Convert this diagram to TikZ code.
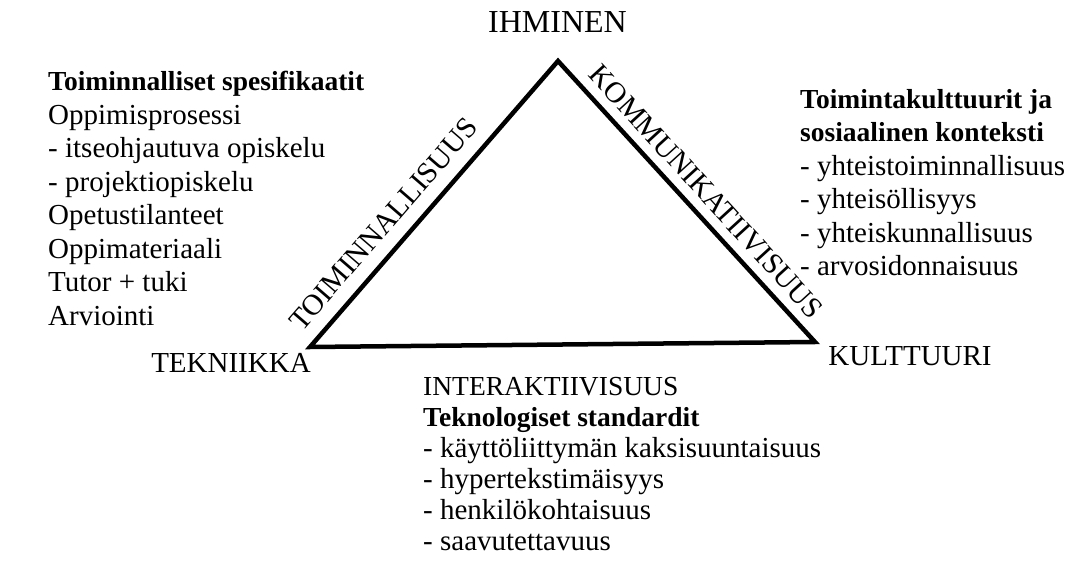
\documentclass[tikz,border=0pt]{standalone}
\usepackage{fontspec}
\setmainfont{Liberation Serif}
\usetikzlibrary{positioning,calc}
\newcommand{\spechead}[1]{{\fontsize{27.5}{33.5}\selectfont\bfseries #1}}

\begin{document}
\begin{tikzpicture}[x=1pt, y=-1pt]
        \tikzset{
            corner/.style={inner sep=0pt, font=\fontsize{29}{33}\selectfont},
            side/.style={inner sep=0pt, sloped, font=\fontsize{29.5}{33}\selectfont},
            spec/.style={inner sep=0pt, anchor=north west, align=left, font=\fontsize{29}{33.5}\selectfont},
            triangle/.style={draw, line width=4.5pt, line join=miter}
        }
        
        % Triangle corners
        \coordinate (vtop) at (558, 61);
        \coordinate (vleft) at (310, 347);
        \coordinate (vright) at (815, 342);
        
        % Triangle with side labels
        \draw [triangle] (vleft) -- node[side, pos=0.372, above=13pt] (toim) {TOIMINNALLISUUS} (vtop)
            -- node[side, pos=0.516, above=9pt] (komm) {KOMMUNIKATIIVISUUS} (vright) -- cycle;
        
        % Corner labels
        \node [corner, font=\fontsize{32}{33}\selectfont] (ihminen) at (557.5, 22.5) {IHMINEN};
        \node [corner] (tekniikka) at (231, 363) {TEKNIIKKA};
        \node [corner] (kulttuuri) at (910, 356) {KULTTUURI};
        \node [corner, font=\fontsize{27.5}{33}\selectfont, anchor=north west] (interakt) at (423, 377.5) {INTERAKTIIVISUUS};
        
        % Specification lists
        \node [spec] (toimspec) at (48, 71) {\spechead{Toiminnalliset spesifikaatit}\\
            Oppimisprosessi\\ - itseohjautuva opiskelu\\ - projektiopiskelu\\
            Opetustilanteet\\ Oppimateriaali\\ Tutor + tuki\\ Arviointi};
        \node [spec] (kommspec) at (800, 89) {\spechead{Toimintakulttuurit ja}\\
            \spechead{sosiaalinen konteksti}\\ - yhteistoiminnallisuus\\
            - yhteisöllisyys\\ - yhteiskunnallisuus\\ - arvosidonnaisuus};
        \node [spec, font=\fontsize{29}{31}\selectfont] (interspec) [below right=11pt and 0pt of interakt.south west] {\spechead{Teknologiset standardit}\\
            - käyttöliittymän kaksisuuntaisuus\\ - hypertekstimäisyys\\
            - henkilökohtaisuus\\ - saavutettavuus};
        
        \useasboundingbox (0, 0) rectangle (1071, 585);
\end{tikzpicture}
\end{document}
